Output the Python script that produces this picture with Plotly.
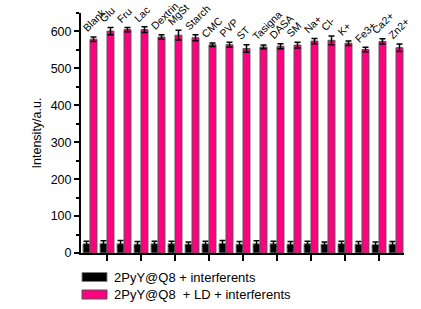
import plotly.graph_objects as go

categories = ["Blank", "Glu", "Fru", "Lac", "Dextrin", "MgSt", "Starch", "CMC", "PVP", "ST",
              "Tasigna", "DASA", "SM", "Na+", "Cl-", "K+", "Fe3+", "Ca2+", "Zn2+"]
probe_vals = [25, 26, 25, 24, 25, 25, 24, 25, 26, 24, 25, 25, 24, 25, 24, 25, 24, 23, 24]
probe_err = [7, 7, 9, 7, 7, 7, 6, 7, 8, 7, 8, 7, 7, 7, 6, 7, 7, 7, 7]
ld_vals = [579, 601, 605, 605, 585, 590, 583, 564, 564, 554, 558, 560, 563, 574, 576, 568, 551, 573, 556]
ld_err = [6, 10, 6, 8, 6, 13, 8, 5, 7, 10, 5, 7, 8, 7, 12, 6, 6, 7, 10]
series_names = ["2PyY@Q8 + interferents", "2PyY@Q8  + LD + interferents"]

W, H = 421, 309
ML, MR, MT, MB = 81, 17, 13, 56
PW, PH = W - ML - MR, H - MT - MB

def px2paper_x(px):
    return (px - ML) / PW

def px2paper_y(py):
    return (H - MB - py) / PH

FONT = "Liberation Sans, Arial, sans-serif"
PINK = "#ff0080"

x = list(range(len(categories)))

fig = go.Figure()
fig.add_trace(go.Bar(
    x=x, y=probe_vals, name=series_names[0],
    marker=dict(color="black", line=dict(color="#7f7f7f", width=1)),
    error_y=dict(type="data", array=probe_err, color="black", thickness=1.5, width=3),
    showlegend=False, hoverinfo="skip",
))
fig.add_trace(go.Bar(
    x=x, y=ld_vals, name=series_names[1],
    marker=dict(color=PINK, line=dict(color="#555555", width=1)),
    error_y=dict(type="data", array=ld_err, color="black", thickness=1.5, width=3),
    showlegend=False, hoverinfo="skip",
))

# category labels above each pair
for i, (c, v, e) in enumerate(zip(categories, ld_vals, ld_err)):
    fig.add_annotation(x=i, y=v + e, xref="x", yref="y", text=c, showarrow=False,
                       textangle=-45, xanchor="left", yanchor="bottom", xshift=-12.5, yshift=0,
                       font=dict(family=FONT, size=10.5, color="black"))

# legend drawn manually
swatches = [("black", "#7f7f7f", 272.5, 281.5), (PINK, "#555555", 290, 299)]
for (fc, lc, y0, y1), name in zip(swatches, series_names):
    fig.add_shape(type="rect", xref="paper", yref="paper",
                  x0=px2paper_x(82), x1=px2paper_x(107), y0=px2paper_y(y0), y1=px2paper_y(y1),
                  fillcolor=fc, line=dict(color=lc, width=1))
    fig.add_annotation(xref="paper", yref="paper", x=px2paper_x(112), y=px2paper_y((y0 + y1) / 2),
                       text=name, showarrow=False, xanchor="left", yanchor="middle",
                       font=dict(family=FONT, size=13, color="black"))

fig.update_layout(
    width=W, height=H,
    margin=dict(l=ML, r=MR, t=MT, b=MB),
    paper_bgcolor="white", plot_bgcolor="white",
    barmode="group", bargap=0.18, bargroupgap=0,
    font=dict(family=FONT, size=12.5, color="black"),
    showlegend=False,
)
fig.update_xaxes(
    range=[-0.53, 18.47], showgrid=False, zeroline=False,
    showline=True, linecolor="black", linewidth=2,
    tickmode="array", tickvals=[1, 3, 5, 7, 9, 11, 13, 15, 17], ticks="outside",
    ticklen=6, tickwidth=2, tickcolor="black", showticklabels=False,
)
fig.update_yaxes(
    range=[0, 650], showgrid=False, zeroline=False,
    showline=True, linecolor="black", linewidth=2,
    tickmode="linear", tick0=0, dtick=100, ticks="outside", ticklen=5, tickwidth=2,
    tickcolor="black", tickfont=dict(family=FONT, size=12.5),
    minor=dict(dtick=50, ticks="outside", ticklen=3, tickwidth=2, tickcolor="black"),
    title=dict(text="Intensity/a.u.", font=dict(family=FONT, size=12.5), standoff=6),
)

fig.write_html("out.html", config={"displayModeBar": False},
               post_script="document.body.style.margin='0';document.body.style.overflow='hidden';")
